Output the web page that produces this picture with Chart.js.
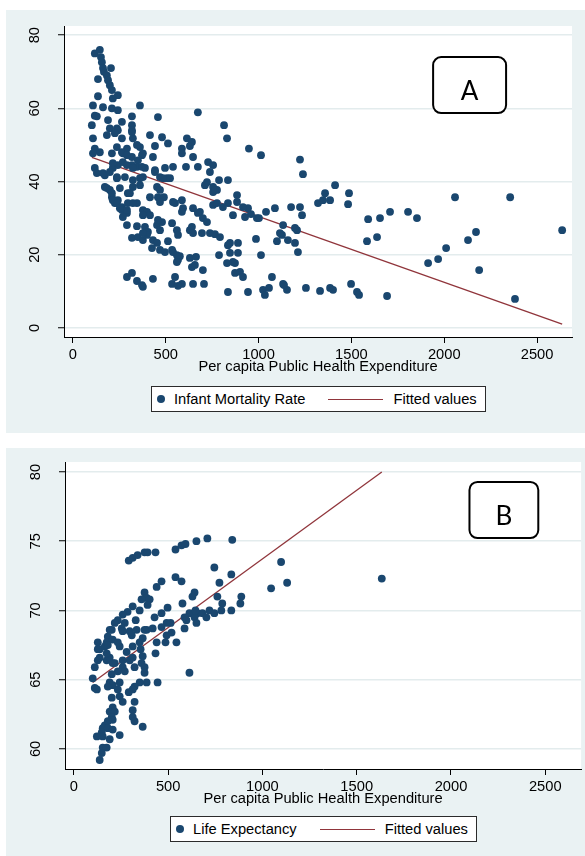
<!DOCTYPE html>
<html>
<head>
<meta charset="utf-8">
<script src="https://cdn.jsdelivr.net/npm/chart.js@4.4.0/dist/chart.umd.min.js"></script>
<style>
  html, body { margin: 0; padding: 0; background: #fff; }
  body { width: 585px; height: 856px; position: relative; overflow: hidden;
         font-family: "Liberation Sans", Arial, sans-serif; }
  .panel { position: absolute; left: 6px; width: 579px; }
  #panelA { top: 10px; height: 423px; }
  #panelB { top: 448px; height: 408px; }
  .panel canvas { display: block; }
  .legend { position: absolute; box-sizing: border-box; height: 26px; display: flex; align-items: center;
            background: #fff; border: 1px solid #2b2b2b; padding: 0 8px 0 5px;
            font-size: 14.7px; color: #000; white-space: nowrap; }
  .legend .key-dot { width: 8px; height: 8px; border-radius: 50%; margin-right: 9px; }
  .legend .key-line { width: 55px; height: 0; border-top: 1.3px solid; margin-right: 10px; }
  .legend .lbl:not(:last-child) { margin-right: 23px; }
</style>
</head>
<body>
<div class="panel" id="panelA"><canvas id="chartA" width="579" height="423"></canvas><div class="legend" id="legendA"></div></div>
<div class="panel" id="panelB"><canvas id="chartB" width="579" height="408"></canvas><div class="legend" id="legendB"></div></div>
<script>
// ===== Public health expenditure vs. infant mortality (A) and life expectancy (B) =====

const X_TITLE = 'Per capita Public Health Expenditure';
const xTicks = [0, 500, 1000, 1500, 2000, 2500];

// --- A: [per capita expenditure, infant mortality rate]
const imrLabel = 'Infant Mortality Rate';
const imrTicks = [0, 20, 40, 60, 80];
const imrPoints = [
  [118,75],[145,76],[151,74],[156,72.6],[162,71],[167,70],[205,71],[183,69],[189,67.7],[199,66.3],
  [210,65],[135,68],[242,63.6],[215,62.7],[135,63.3],[108,60.8],[162,60.3],[210,60],[242,59.5],[361,60.8],
  [118,58],[129,57.8],[189,56.8],[264,56.3],[318,57.8],[458,57.6],[673,58.9],[102,55.4],[199,54.5],[237,54.5],
  [242,54],[318,55.4],[318,54],[108,51.8],[183,52.7],[226,53.2],[264,51.8],[323,51.8],[318,53.5],[415,52.7],
  [480,52.1],[512,50.4],[614,51.8],[630,49.7],[641,50.8],[814,55.4],[830,51.8],[948,49],[1013,47.2],[442,49.7],
  [361,49.4],[291,49],[237,49.4],[118,49],[145,48],[210,47.7],[269,47.7],[318,46.7],[372,47.2],[431,46.7],
  [587,49],[587,47.7],[647,46.7],[345,50],[108,47.7],[264,48],[377,47.7],[291,47.2],[350,45.8],[673,44],
  [728,45.3],[755,44.5],[738,42.6],[609,44],[539,44],[442,43.1],[496,43.7],[469,41.2],[507,40.9],[118,43.7],
  [129,42.3],[172,41.7],[215,43.7],[242,44.5],[269,45.3],[318,44.5],[345,44],[388,43.7],[280,41.2],[323,40.4],
  [377,41.2],[172,38.5],[253,38.2],[323,38.5],[453,38.5],[787,40.4],[835,40.4],[722,39.8],[291,44.5],[372,44],
  [162,42.3],[361,40.9],[485,40.9],[523,40.9],[237,40.9],[755,38.5],[776,37.7],[755,37.1],[183,38.2],[199,37.7],
  [361,39],[296,36.8],[415,35.7],[458,35.7],[490,35.7],[210,35.7],[242,34.9],[884,36.3],[943,32.7],[684,31.7],
  [755,33.6],[835,34.1],[884,34.4],[1088,32.7],[1175,33],[1223,33],[1040,31.7],[539,34.4],[587,34.9],[593,32.7],
  [264,33],[296,34.1],[345,34.1],[377,32.2],[647,32.7],[991,30],[927,30.3],[226,34.1],[264,32.2],[291,31.4],
  [269,30.3],[323,34.1],[399,31.7],[469,34.4],[550,34.1],[673,31.4],[587,31.7],[700,30],[722,28.9],[808,33],
  [862,30.8],[916,33],[959,31.1],[1132,28.1],[1126,25.4],[1158,24],[1099,23.7],[1196,23.2],[1212,20.7],[291,28.1],
  [345,27.8],[388,27.6],[404,26.2],[453,28.1],[480,28.9],[534,28.6],[560,26.7],[566,25.4],[630,26.7],[641,27.6],
  [647,25.9],[318,24.6],[350,24.8],[377,24],[399,25.4],[431,24],[453,23.2],[426,21.8],[469,21.3],[496,20.7],
  [512,23.7],[539,20.7],[566,18.6],[576,19.6],[560,18],[630,19.1],[663,19.4],[641,16.6],[695,25.9],[738,25.9],
  [765,25.6],[792,24.8],[700,15.8],[787,19.9],[846,23.2],[889,23.2],[889,20.5],[830,17.7],[862,18],[873,15],
  [900,15.3],[916,13.9],[986,24.3],[1013,19.9],[291,13.9],[318,15],[345,12.8],[377,11.2],[372,11.7],[431,13.4],
  [550,13.9],[534,12],[587,12],[566,11.5],[647,12],[706,12],[835,9.8],[943,9.8],[1024,10.4],[1034,9],
  [1056,10.9],[1072,13.9],[1132,12],[1153,10.4],[199,42.6],[237,41.2],[215,45],[323,43.7],[307,36.8],[210,36.8],
  [215,34.9],[237,34.1],[253,32.7],[291,32.2],[469,37.7],[442,42.6],[711,39],[765,37.7],[776,34.1],[1002,30],
  [1115,25.9],[1207,26.7],[835,22.6],[846,20.5],[873,17.7],[657,17.2],[534,21.3],[469,26.7],[458,29.5],[415,30.8],
  [377,30.8],[377,25.9],[560,19.9],[1234,30.8],[1320,34.1],[1347,34.9],[1385,34.9],[1482,33.8],[1196,27.3],[1590,29.7],
  [1654,30],[1708,31.7],[1805,31.7],[1853,30],[1584,23.7],[1638,24.8],[1913,17.7],[1967,18.8],[2010,21.8],[2128,24],
  [2171,26.2],[2188,15.8],[2381,7.9],[2635,26.7],[1137,11.7],[1255,10.9],[1331,10.1],[1385,10.9],[1401,10.4],[1498,12],
  [1530,9.8],[1541,9],[1692,8.7],[1223,46],[1239,42],[1358,36.8],[1412,39],[1487,36.8],[2058,35.7],[2355,35.7]
];
const imrFitX = [102, 2635];
const imrFitY = [46.6, 1.0];

// --- B: [per capita expenditure, life expectancy]
const leLabel = 'Life Expectancy';
const leTicks = [60, 65, 70, 75, 80];
const lePoints = [
  [291,73.6],[312,73.8],[338,74],[375,74.2],[391,74.2],[433,74.2],[539,74.4],[571,74.7],[592,74.8],[650,75],
  [708,75.2],[840,75.1],[1099,73.5],[1131,72],[1046,71.6],[1633,72.3],[745,73.1],[835,72.6],[539,72.4],[571,72.1],
  [465,72.1],[439,71.7],[772,72],[375,71.3],[386,70.9],[402,70.8],[391,70.4],[359,70.8],[312,70.3],[285,69.9],
  [259,69.7],[233,69.3],[217,69.1],[270,69.1],[254,68.7],[201,68.6],[180,68.1],[127,67.7],[174,67.7],[328,69.3],
  [349,70],[296,68.5],[333,68.6],[386,68.6],[418,68.7],[365,68],[439,67.7],[492,69.1],[465,68.8],[492,68.2],
  [518,68.4],[544,67.7],[497,70.2],[465,69.8],[428,69.5],[513,69.1],[576,70.5],[640,71.3],[629,71],[761,71],
  [888,71],[883,70.5],[787,70.5],[835,70],[719,70],[745,69.8],[782,70],[613,69.8],[655,69.8],[682,69.8],
  [587,69.5],[640,69.5],[703,69.5],[597,69.3],[650,69.1],[587,68.7],[645,70],[433,66.9],[354,67.2],[375,68.6],
  [307,68.2],[259,68.5],[190,68.6],[137,67.2],[164,67.4],[206,67.9],[243,67.4],[280,67],[312,67.4],[127,66.4],
  [111,65.9],[174,66.4],[217,66.2],[296,66.4],[359,66.2],[365,66.7],[349,67.7],[127,67.2],[180,67.5],[233,67.7],
  [486,67.7],[312,66.6],[259,66.4],[206,66.2],[190,66.6],[174,66.9],[137,66.6],[100,65.1],[111,64.4],[122,64.3],
  [322,65.9],[259,65.9],[233,65.6],[270,65.6],[375,65.9],[375,65.5],[201,65.4],[190,64.8],[206,64.6],[180,64.5],
  [243,64.8],[613,65.5],[386,64.8],[349,64.8],[444,64.8],[322,64.5],[312,64.3],[291,64.1],[233,64.3],[243,63.8],
  [201,63.7],[259,63.4],[322,63.4],[206,63],[190,62.7],[217,62.7],[312,62.8],[201,62.3],[206,62.1],[312,62.3],
  [322,62],[180,62],[164,61.7],[153,61.5],[180,61.5],[365,61.6],[148,61.2],[206,61.4],[243,61],[122,60.9],
  [153,60.9],[190,60.7],[153,60.1],[174,60.1],[148,59.7],[137,59.2]
];
const leFitX = [100, 1633];
const leFitY = [64.8, 80.0];

const FIT_LABEL = 'Fitted values';
const NAVY = '#1a476f';
const MAROON = '#90353b';
const BG = '#eaf2f3';
const FONT = { family: '"Liberation Sans", Arial, sans-serif', size: 14.7 };

// panel background + white plot region
const panelBg = {
  id: 'panelBg',
  beforeDraw(chart) {
    const { ctx, chartArea: a, width, height } = chart;
    ctx.save();
    ctx.fillStyle = BG;
    ctx.fillRect(0, 0, width, height);
    ctx.fillStyle = '#fff';
    ctx.fillRect(a.left, a.top, a.right - a.left, a.bottom - a.top);
    ctx.restore();
  }
};

// rounded "A"/"B" tag inside the plot, placed in data coordinates
const panelTag = {
  id: 'panelTag',
  afterDatasetsDraw(chart, args, o) {
    const { ctx, scales: { x, y } } = chart;
    const l = x.getPixelForValue(o.x0), r = x.getPixelForValue(o.x1);
    const t = y.getPixelForValue(o.y1), b = y.getPixelForValue(o.y0);
    ctx.save();
    ctx.beginPath();
    ctx.roundRect(l, t, r - l, b - t, 8);
    ctx.fillStyle = '#fff';
    ctx.fill();
    ctx.lineWidth = 2;
    ctx.strokeStyle = '#000';
    ctx.stroke();
    ctx.fillStyle = '#000';
    ctx.font = '26px Lato, "Liberation Sans", sans-serif';
    ctx.textAlign = 'center';
    ctx.textBaseline = 'alphabetic';
    ctx.fillText(o.text, (l + r) / 2, b - 13);
    ctx.restore();
  }
};

// boxed legend below the axis title, built from the datasets
const htmlLegend = {
  id: 'htmlLegend',
  afterUpdate(chart, args, o) {
    const box = document.getElementById(o.containerID);
    box.innerHTML = '';
    chart.data.datasets.forEach(ds => {
      const key = document.createElement('span');
      if (ds.showLine) { key.className = 'key-line'; key.style.borderTopColor = ds.borderColor; }
      else { key.className = 'key-dot'; key.style.background = ds.backgroundColor; }
      const txt = document.createElement('span');
      txt.className = 'lbl';
      txt.textContent = ds.label;
      box.append(key, txt);
    });
    const a = chart.chartArea;
    box.style.top = o.top + 'px';
    box.style.left = Math.round((a.left + a.right) / 2 - box.offsetWidth / 2) + 'px';
  }
};

function noPad(s) { s.paddingLeft = s.paddingRight = s.paddingTop = s.paddingBottom = 0; }

function drawPanel(id, p) {
  new Chart(document.getElementById(id), {
    type: 'scatter',
    data: {
      datasets: [
        { label: p.label, data: p.points.map(([x, y]) => ({ x, y })),
          backgroundColor: NAVY, borderColor: NAVY, borderWidth: 0, pointRadius: 3.9, pointHoverRadius: 3.9 },
        { label: FIT_LABEL, data: p.fitX.map((x, i) => ({ x, y: p.fitY[i] })),
          showLine: true, borderColor: MAROON, backgroundColor: MAROON, borderWidth: 1.3, pointRadius: 0 }
      ]
    },
    options: {
      responsive: false, animation: false, devicePixelRatio: 1,
      layout: { padding: p.pad },
      scales: {
        x: {
          type: 'linear', min: p.xMin, max: p.xMax,
          afterBuildTicks: s => { s.ticks = xTicks.map(v => ({ value: v })); },
          afterFit: s => { s.height = 39; noPad(s); },
          border: { color: '#000', width: 1 },
          grid: { drawOnChartArea: false, tickLength: 6, tickColor: '#000' },
          ticks: { color: '#000', font: FONT, padding: 3.6, maxRotation: 0, autoSkip: false,
                   callback: v => String(v) },
          title: { display: true, text: X_TITLE, color: '#000', font: FONT, padding: 0 }
        },
        y: {
          type: 'linear', min: p.yMin, max: p.yMax,
          afterBuildTicks: s => { s.ticks = p.yTicks.map(v => ({ value: v })); },
          afterFit: s => { s.width = p.yWidth; noPad(s); },
          border: { color: '#000', width: 1 },
          grid: { color: '#e3eced', lineWidth: 1.5, tickLength: 6, tickColor: '#000', tickWidth: 1 },
          ticks: { color: '#000', font: FONT, minRotation: 90, maxRotation: 90, crossAlign: 'center', padding: 15,
                   callback: v => String(v) }
        }
      },
      plugins: {
        legend: { display: false },
        tooltip: { enabled: false },
        panelTag: p.tag,
        htmlLegend: { containerID: p.legendID, top: p.legendTop }
      }
    },
    plugins: [panelBg, panelTag, htmlLegend]
  });
}

drawPanel('chartA', {
  label: imrLabel, points: imrPoints, fitX: imrFitX, fitY: imrFitY, yTicks: imrTicks,
  xMin: -48, xMax: 2688, yMin: -2.5, yMax: 82.5, yWidth: 58,
  pad: { left: 0, top: 16, right: 13, bottom: 57 },
  tag: { text: 'A', x0: 1940, x1: 2333, y0: 58.7, y1: 74 },
  legendID: 'legendA', legendTop: 376
});

drawPanel('chartB', {
  label: leLabel, points: lePoints, fitX: leFitX, fitY: leFitY, yTicks: leTicks,
  xMin: -47, xMax: 2690, yMin: 58.55, yMax: 80.72, yWidth: 59,
  pad: { left: 0, top: 14, right: 2, bottom: 48 },
  tag: { text: 'B', x0: 2098, x1: 2463, y0: 75.23, y1: 79.28 },
  legendID: 'legendB', legendTop: 368
});
</script>
</body>
</html>
